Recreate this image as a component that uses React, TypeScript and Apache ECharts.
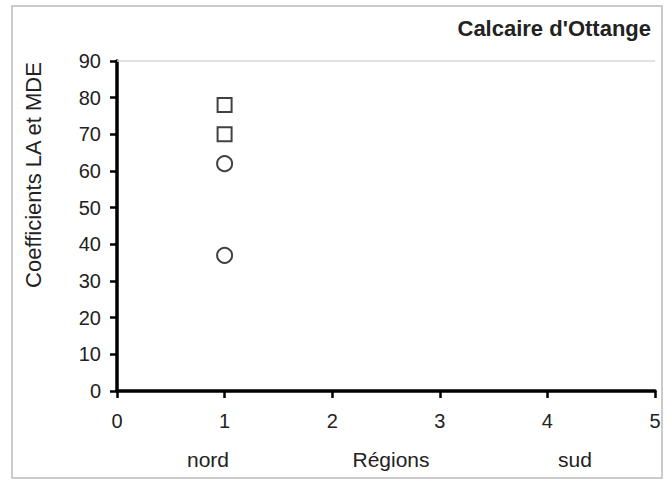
import React, { useEffect, useRef } from "react";
import * as echarts from "echarts";

const titleText = "Calcaire d'Ottange";
const yAxisTitle = "Coefficients LA et MDE";
const xAxisTitle = "Régions";
const regionLabels = ["nord", "sud"];
const laPoints: [number, number][] = [
  [1, 78],
  [1, 70],
];
const mdePoints: [number, number][] = [
  [1, 62],
  [1, 37],
];
const yMax = 90;

export default function App() {
  const ref = useRef<HTMLDivElement>(null);
  useEffect(() => {
    document.body.style.margin = "0";
    const chart = echarts.init(ref.current!, null, { renderer: "svg" });
    const font = "'Liberation Sans', Arial, sans-serif";
    const txt = { fontSize: 21, fill: "#222", fontFamily: font, align: "center", verticalAlign: "middle" };
    chart.setOption({
      animation: false,
      backgroundColor: "#fff",
      textStyle: { fontFamily: font },
      grid: { left: 117, right: 13, top: 61, bottom: 89 },
      xAxis: {
        type: "value",
        min: 0,
        max: 5,
        interval: 1,
        axisLine: { show: true, lineStyle: { color: "#000", width: 3.5 } },
        axisTick: { show: true, length: 7, lineStyle: { color: "#000", width: 2.5 } },
        axisLabel: { fontSize: 20, color: "#222", margin: 20, fontFamily: font },
        splitLine: { show: false },
      },
      yAxis: {
        type: "value",
        min: 0,
        max: yMax,
        interval: 10,
        axisLine: { show: true, lineStyle: { color: "#000", width: 3.5 } },
        axisTick: { show: true, length: 7, lineStyle: { color: "#000", width: 2.5 } },
        axisLabel: { fontSize: 20, color: "#222", margin: 16, fontFamily: font },
        splitLine: { show: false },
      },
      title: {
        text: titleText,
        right: 12,
        top: 12,
        textStyle: { fontSize: 22, fontWeight: "bold", color: "#222", fontFamily: font },
      },
      graphic: [
        {
          type: "rect",
          shape: { x: 12, y: 6, width: 650, height: 472 },
          style: { fill: "none", stroke: "#bbb", lineWidth: 1.5 },
          silent: true,
          z: -1,
        },
        {
          type: "text",
          x: 33,
          y: 175,
          rotation: Math.PI / 2,
          style: { ...txt, fontSize: 22, text: yAxisTitle },
        },
        { type: "text", x: 208, y: 459, style: { ...txt, text: regionLabels[0] } },
        { type: "text", x: 391, y: 459, style: { ...txt, text: xAxisTitle } },
        { type: "text", x: 575, y: 459, style: { ...txt, text: regionLabels[1] } },
      ],
      series: [
        {
          type: "scatter",
          data: laPoints,
          symbol: "rect",
          symbolSize: 14,
          itemStyle: { color: "#fff", borderColor: "#111", borderWidth: 2 },
          markLine: {
            silent: true,
            symbol: "none",
            label: { show: false },
            lineStyle: { color: "#d8d8d8", width: 1.5, type: "solid" },
            data: [{ yAxis: yMax }],
          },
        },
        {
          type: "scatter",
          data: mdePoints,
          symbol: "circle",
          symbolSize: 15,
          itemStyle: { color: "#fff", borderColor: "#111", borderWidth: 2 },
        },
      ],
    });
    return () => chart.dispose();
  }, []);
  return <div ref={ref} style={{ width: 668, height: 480 }} />;
}
